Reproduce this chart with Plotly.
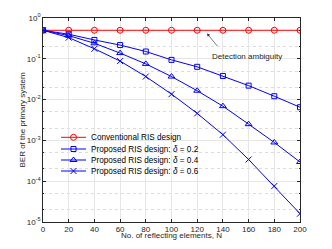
import plotly.graph_objects as go

N = [0, 20, 40, 60, 80, 100, 120, 140, 160, 180, 200]
ber_conv = [0.5] * 11
ber_d02 = [0.5, 0.40, 0.29, 0.217, 0.151, 0.094, 0.0636, 0.038, 0.022, 0.0121, 0.0065]
ber_d04 = [0.5, 0.37, 0.24, 0.138, 0.075, 0.0367, 0.0165, 0.0069, 0.0025, 0.00089, 0.000295]
ber_d06 = [0.5, 0.33, 0.176, 0.088, 0.0367, 0.0136, 0.0046, 0.00138, 0.00034, 0.000076, 0.000016]

names = ["Conventional RIS design",
         "Proposed RIS design: <i>δ</i> = 0.2",
         "Proposed RIS design: <i>δ</i> = 0.4",
         "Proposed RIS design: <i>δ</i> = 0.6"]
ytickvals = [1e0, 1e-1, 1e-2, 1e-3, 1e-4, 1e-5]
yticktext = ["10<sup>0</sup>", "10<sup>-1</sup>", "10<sup>-2</sup>", "10<sup>-3</sup>",
             "10<sup>-4</sup>", "10<sup>-5</sup>"]
xtickvals = [0, 20, 40, 60, 80, 100, 120, 140, 160, 180, 200]

W, H = 332, 249
L, R, T, B = 43, 32, 18, 27
FONT = "Liberation Sans, Arial, sans-serif"
TXT = "#262626"
XMIN, XMAX, YMIN, YMAX = 0, 200, -5, 0
pw, ph = W - L - R, H - T - B


def px_x(p):  # pixel -> data x
    return XMIN + (p - L) / pw * (XMAX - XMIN)


def px_ylog(p):  # pixel -> log10 data y
    return YMAX - (p - T) / ph * (YMAX - YMIN)


fig = go.Figure()
series = [
    (ber_conv, "red", "circle-open", 6),
    (ber_d02, "blue", "square-open", 5),
    (ber_d04, "blue", "triangle-up-open", 6),
    (ber_d06, "blue", "x-thin-open", 6),
]
for (vals, col, sym, sz), nm in zip(series, names):
    fig.add_trace(go.Scatter(
        x=N, y=vals, name=nm, mode="lines+markers", showlegend=False,
        line=dict(color=col, width=1),
        marker=dict(symbol=sym, size=sz, color=col, line=dict(color=col, width=1)),
    ))

# manual legend (box drawn between grid and traces)
lx0, lx1, ly0, ly1 = 59, 204, 128.5, 178
fig.add_shape(type="rect", xref="x", yref="y",
              x0=px_x(lx0), x1=px_x(lx1), y0=px_ylog(ly1), y1=px_ylog(ly0),
              fillcolor="white", line=dict(color=TXT, width=0.6), layer="between")
row_y = [137.3, 149, 160, 171]
for (vals, col, sym, sz), nm, ry in zip(series, names, row_y):
    yy = 10 ** px_ylog(ry)
    fig.add_trace(go.Scatter(
        x=[px_x(61), px_x(86)], y=[yy, yy], mode="lines", showlegend=False,
        line=dict(color=col, width=1), hoverinfo="skip"))
    fig.add_trace(go.Scatter(
        x=[px_x(73.5)], y=[yy], mode="markers", showlegend=False,
        marker=dict(symbol=sym, size=sz, color=col, line=dict(color=col, width=1)),
        hoverinfo="skip"))
    fig.add_annotation(x=px_x(88.5), y=px_ylog(ry), xref="x", yref="y", text=nm,
                       showarrow=False, xanchor="left", yanchor="middle",
                       font=dict(family=FONT, size=8.2, color="#000"))

fig.update_layout(
    width=W, height=H,
    margin=dict(l=L, r=R, t=T, b=B),
    paper_bgcolor="white", plot_bgcolor="white",
    font=dict(family=FONT, size=8, color=TXT),
    showlegend=False,
)
fig.update_layout(xaxis=dict(
    range=[XMIN, XMAX], tickvals=xtickvals, automargin=False,
    showgrid=True, gridcolor="#e6e6e6", gridwidth=0.5,
    showline=True, linecolor=TXT, linewidth=0.6, mirror="ticks",
    ticks="inside", ticklen=3, tickcolor=TXT, zeroline=False,
    tickfont=dict(family=FONT, size=8, color=TXT),
))
fig.update_layout(yaxis=dict(
    type="log", range=[YMIN, YMAX], tickvals=ytickvals, ticktext=yticktext, automargin=False,
    showgrid=True, gridcolor="#e6e6e6", gridwidth=0.5,
    minor=dict(showgrid=True, gridcolor="#dcdcdc", griddash="dot", ticks="inside",
               ticklen=1.5, tickcolor=TXT, gridwidth=0.5),
    showline=True, linecolor=TXT, linewidth=0.6, mirror="ticks",
    ticks="inside", ticklen=3, tickcolor=TXT, zeroline=False,
    tickfont=dict(family=FONT, size=8, color=TXT),
))

# axis titles (paper coordinates)
fig.add_annotation(x=(171.5 - L) / pw, y=(H - B - 241.5) / ph, xref="paper", yref="paper",
                   text="No. of reflecting elements, N",
                   showarrow=False, font=dict(family=FONT, size=8, color=TXT))
fig.add_annotation(x=(15 - L) / pw, y=0.5, xref="paper", yref="paper",
                   text="BER of the primary system",
                   showarrow=False, textangle=-90, font=dict(family=FONT, size=8, color=TXT))

# arrow and text annotation
fig.add_annotation(x=px_x(207), y=px_ylog(33.5), xref="x", yref="y",
                   ax=px_x(218.5), ay=px_ylog(47.5), axref="x", ayref="y",
                   text="", showarrow=True,
                   arrowhead=2, arrowsize=1, arrowwidth=0.6, arrowcolor=TXT)
fig.add_annotation(x=px_x(247), y=px_ylog(56), xref="x", yref="y", text="Detection ambiguity",
                   showarrow=False, font=dict(family=FONT, size=8, color=TXT))

fig.write_html("out.html", config={"displayModeBar": False},
               post_script="document.body.style.margin='0';")
